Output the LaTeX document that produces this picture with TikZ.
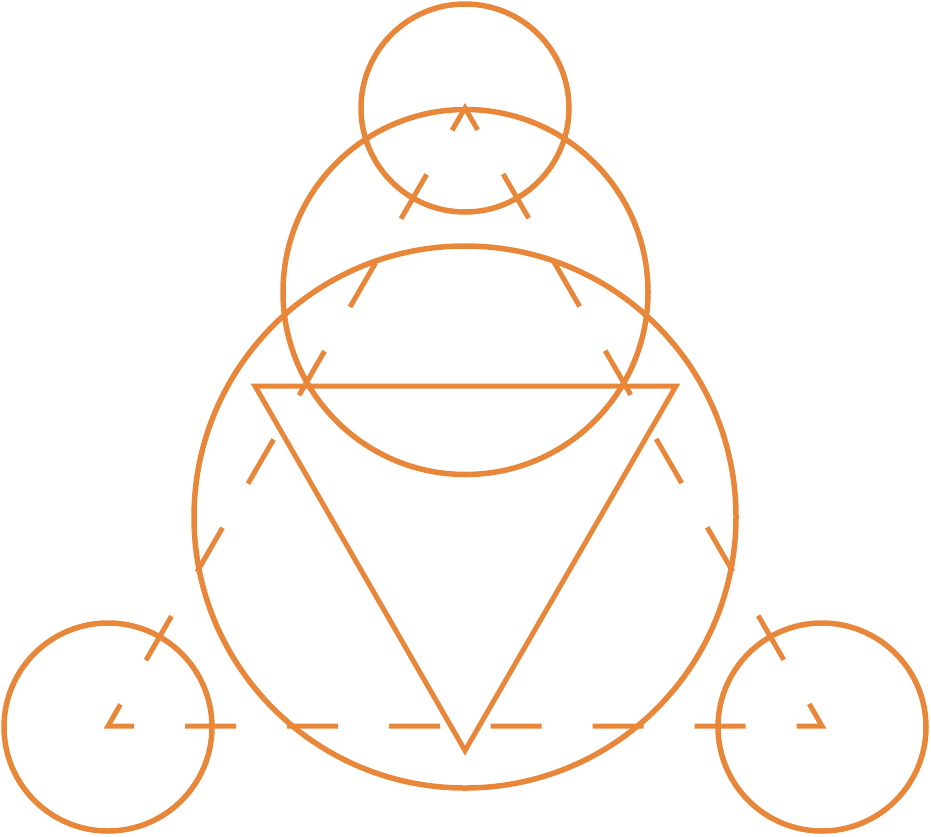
\documentclass[tikz,border=0pt]{standalone}
\definecolor{ora}{RGB}{232,135,58}
\begin{document}
\begin{tikzpicture}[x=1pt,y=-1pt,
  ring/.style={draw=ora,line width=5.5pt},
  tri/.style={draw=ora,line width=5pt,line join=miter},
  dtri/.style={draw=ora,line width=5pt,line join=miter,dash pattern=on 51pt off 51pt,dash phase=76.5pt}]
\useasboundingbox (0,0) rectangle (931,836);
\coordinate (A) at (465,108);
\coordinate (B) at (108,726);
\coordinate (C) at (822,726);
\coordinate (M) at (465,726);
% circles
\draw[ring] (A) circle[radius=104];
\draw[ring] (465.5,292) circle[radius=182.5];
\draw[ring] (465,517) circle[radius=271];
\draw[ring] (108,727) circle[radius=104];
\draw[ring] (822,727) circle[radius=104];
% solid inverted triangle
\coordinate (P) at (255,386);
\coordinate (Q) at (676,386);
\coordinate (R) at (465,750.6);
\draw[tri] (P) -- (Q) -- (R) -- cycle;
% dashed triangle
\draw[dtri] (M) -- (C) -- (A) -- (B) -- (M);
\end{tikzpicture}
\end{document}
